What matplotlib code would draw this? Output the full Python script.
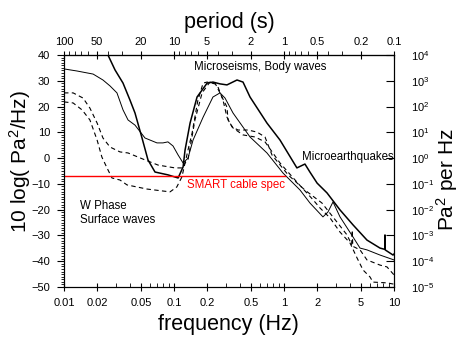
import matplotlib
matplotlib.use('Agg')
import matplotlib.pyplot as plt
import numpy as np
from matplotlib.ticker import FixedLocator, FixedFormatter, LogLocator, NullFormatter, MultipleLocator, NullLocator

plt.rcParams['font.family'] = ['Liberation Sans', 'DejaVu Sans']
plt.rcParams['mathtext.default'] = 'regular'

# ---- data (frequency in Hz, level in dB re Pa^2/Hz) ----
freq_a = [0.01, 0.0131, 0.0184, 0.0226, 0.0262, 0.0303, 0.0344, 0.0382, 0.0442, 0.0545,
          0.0700, 0.0794, 0.0881, 0.098, 0.109, 0.121, 0.134, 0.149, 0.184, 0.226,
          0.262, 0.291, 0.344, 0.491, 0.700, 0.98, 1.40, 1.72, 2.26, 2.51,
          2.79, 3.23, 4.24, 4.91, 5.68, 7.46, 10]
level_a = [34.6, 33.8, 32.6, 30.3, 28.0, 25.3, 18.7, 14.8, 12.8, 7.8,
           5.9, 5.9, 6.3, 4.7, 1.2, -1.9, 0.0, 7.0, 15.9, 23.7,
           25.3, 23.3, 17.5, 8.2, 2.0, -5.8, -12.4, -17.4, -22.8, -20.9,
           -17.0, -22.8, -30.6, -34.9, -35.6, -37.6, -39.5]

freq_b = [0.0226, 0.0251, 0.0291, 0.0344, 0.0398, 0.0442, 0.0512, 0.0580, 0.0672, 0.0881,
          0.109, 0.121, 0.126, 0.140, 0.162, 0.200, 0.226, 0.262, 0.303, 0.374,
          0.424, 0.491, 0.700, 0.920, 1.31, 1.55, 1.72, 2.0, 2.46, 3.23,
          4.24, 5.68, 7.46, 8.25, 8.28, 8.31, 9.8, 10]
level_b = [43.5, 40, 34.2, 29.1, 22.5, 17.5, 7.8, -0.7, -5.4, -6.5,
           -7.7, -3.4, 3.1, 13.6, 23.7, 29.1, 29.5, 28.8, 28.4, 30.3,
           29.5, 23.7, 13.6, 7.0, -3.8, -2.3, -5.4, -9.7, -13.5, -20.1,
           -25.9, -31.8, -34.9, -35.4, -29.8, -35.6, -37.6, -37.2]

freq_c = [0.01, 0.0121, 0.0149, 0.0172, 0.0200, 0.0226, 0.0262, 0.0323, 0.0382, 0.0545,
          0.0716, 0.102, 0.118, 0.126, 0.134, 0.146, 0.165, 0.184, 0.200, 0.236,
          0.251, 0.279, 0.303, 0.337, 0.382, 0.471, 0.568, 0.672, 0.778, 1.09,
          1.55, 2.21, 3.03, 3.74, 4.12, 4.17, 4.22, 4.91, 5.68, 7.46, 8.63, 10]
level_c = [25.3, 25.3, 23.3, 19.4, 13.6, 7.8, 4.3, 2.4, 2.0, -0.7,
           -2.7, -3.8, -3.8, -1.9, 3.1, 9.7, 22.5, 29.1, 29.5, 28.8,
           27.6, 22.5, 15.9, 12.1, 10.9, 10.9, 10.1, 8.2, 1.2, -6.5,
           -12.4, -17.4, -24.8, -29.8, -33.5, -28.0, -34.2, -35.6, -39.5, -41.5, -42.2, -45.3]

freq_d = [0.01, 0.0121, 0.0146, 0.0172, 0.0200, 0.0221, 0.0246, 0.0273, 0.0323, 0.0374,
          0.0568, 0.0920, 0.106, 0.118, 0.126, 0.134, 0.155, 0.180, 0.212, 0.236,
          0.273, 0.303, 0.310, 0.344, 0.424, 0.545, 0.672, 0.92, 1.31, 1.84,
          2.12, 2.62, 3.23, 3.98, 4.61, 5.23, 6.05, 6.44, 8.63, 10]
level_d = [21.8, 21.4, 18.7, 14.8, 7.0, 0.4, -3.8, -7.7, -8.5, -10.4,
           -12.0, -13.1, -11.2, -7.3, -1.9, -0.7, 14.8, 25.3, 29.5, 29.1,
           23.7, 19.8, 14.8, 11.7, 9.0, 8.2, 6.3, -1.9, -9.3, -16.2,
           -19.3, -23.2, -28.7, -32.9, -38.7, -43.4, -46.1, -48.1, -48.4, -48.9]

cable_freq = [0.01, 1.02]
cable_level = [-7.0, -7.0]

freq_ticks = [0.01, 0.02, 0.05, 0.1, 0.2, 0.5, 1, 2, 5, 10]
freq_labels = ['0.01', '0.02', '0.05', '0.1', '0.2', '0.5', '1', '2', '5', '10']
period_ticks = [100, 50, 20, 10, 5, 2, 1, 0.5, 0.2, 0.1]
period_labels = ['100', '50', '20', '10', '5', '2', '1', '0.5', '0.2', '0.1']

fig = plt.figure(figsize=(4.6, 3.37), dpi=100)
ax = fig.add_axes([64/460, 1-287/337, 330/460, 232/337])
ax.set_xscale('log')
ax.set_xlim(0.01, 10)
ax.set_ylim(-50, 40)

ax.plot(freq_a, level_a, color='black', lw=0.7)
ax.plot(freq_b, level_b, color='black', lw=1.1)
ax.plot(freq_c, level_c, color='black', lw=0.8, dashes=(4, 3))
ax.plot(freq_d, level_d, color='black', lw=0.8, dashes=(4, 3))
ax.plot(cable_freq, cable_level, color='red', lw=1.0)

ax.text(0.152, 35.3, 'Microseisms, Body waves', fontsize=8.3, ha='left', va='center')
ax.text(1.46, 0.4, 'Microearthquakes', fontsize=8.3, ha='left', va='center')
ax.text(0.131, -10.4, 'SMART cable spec', fontsize=8.3, ha='left', va='center', color='red')
ax.text(0.014, -18.6, 'W Phase', fontsize=8.3, ha='left', va='center')
ax.text(0.014, -24.0, 'Surface waves', fontsize=8.3, ha='left', va='center')

# bottom axis
ax.xaxis.set_major_locator(FixedLocator(freq_ticks))
ax.xaxis.set_major_formatter(FixedFormatter(freq_labels))
ax.xaxis.set_minor_locator(LogLocator(base=10, subs=np.arange(2, 10), numticks=20))
ax.xaxis.set_minor_formatter(NullFormatter())
ax.tick_params(axis='x', which='major', direction='inout', length=6, labelsize=8, pad=5)
ax.tick_params(axis='x', which='minor', direction='in', length=3)
ax.set_xlabel('frequency (Hz)', fontsize=15.5)
ax.xaxis.set_label_coords(0.497, -0.118)

# left axis
ax.yaxis.set_major_locator(MultipleLocator(10))
ax.yaxis.set_minor_locator(MultipleLocator(1))
ax.tick_params(axis='y', which='major', direction='out', length=5, labelsize=8, pad=5)
ax.tick_params(axis='y', which='minor', direction='out', length=2)
ax.set_ylabel('10 log( Pa$^{2}$/Hz)', fontsize=15)
ax.yaxis.set_label_coords(-0.095, 0.54)

# top axis: period
def inv(x):
    x = np.asarray(x, dtype=float)
    with np.errstate(divide='ignore'):
        return 1.0 / x

sec = ax.secondary_xaxis('top', functions=(inv, inv))
sec.xaxis.set_major_locator(FixedLocator(period_ticks))
sec.xaxis.set_major_formatter(FixedFormatter(period_labels))
sec.xaxis.set_minor_locator(LogLocator(base=10, subs=np.arange(2, 10), numticks=20))
sec.xaxis.set_minor_formatter(NullFormatter())
sec.tick_params(axis='x', which='major', direction='inout', length=6, labelsize=8, pad=3)
sec.tick_params(axis='x', which='minor', direction='out', length=3)
sec.set_xlabel('period (s)', fontsize=15.5)
sec.xaxis.set_label_coords(0.5, 1.116, transform=ax.transAxes)

# right axis
ax2 = ax.twinx()
ax2.set_yscale('log')
ax2.set_ylim(1e-5, 1e4)
ax2.yaxis.set_major_locator(LogLocator(base=10, numticks=20))
ax2.yaxis.set_minor_locator(NullLocator())
ax2.tick_params(axis='y', which='major', direction='in', length=6, labelsize=8, pad=12)
ax2.set_ylabel('Pa$^{2}$ per Hz', fontsize=15)
ax2.yaxis.set_label_coords(1.12, 0.461)

fig.savefig('out.png', dpi=100)
